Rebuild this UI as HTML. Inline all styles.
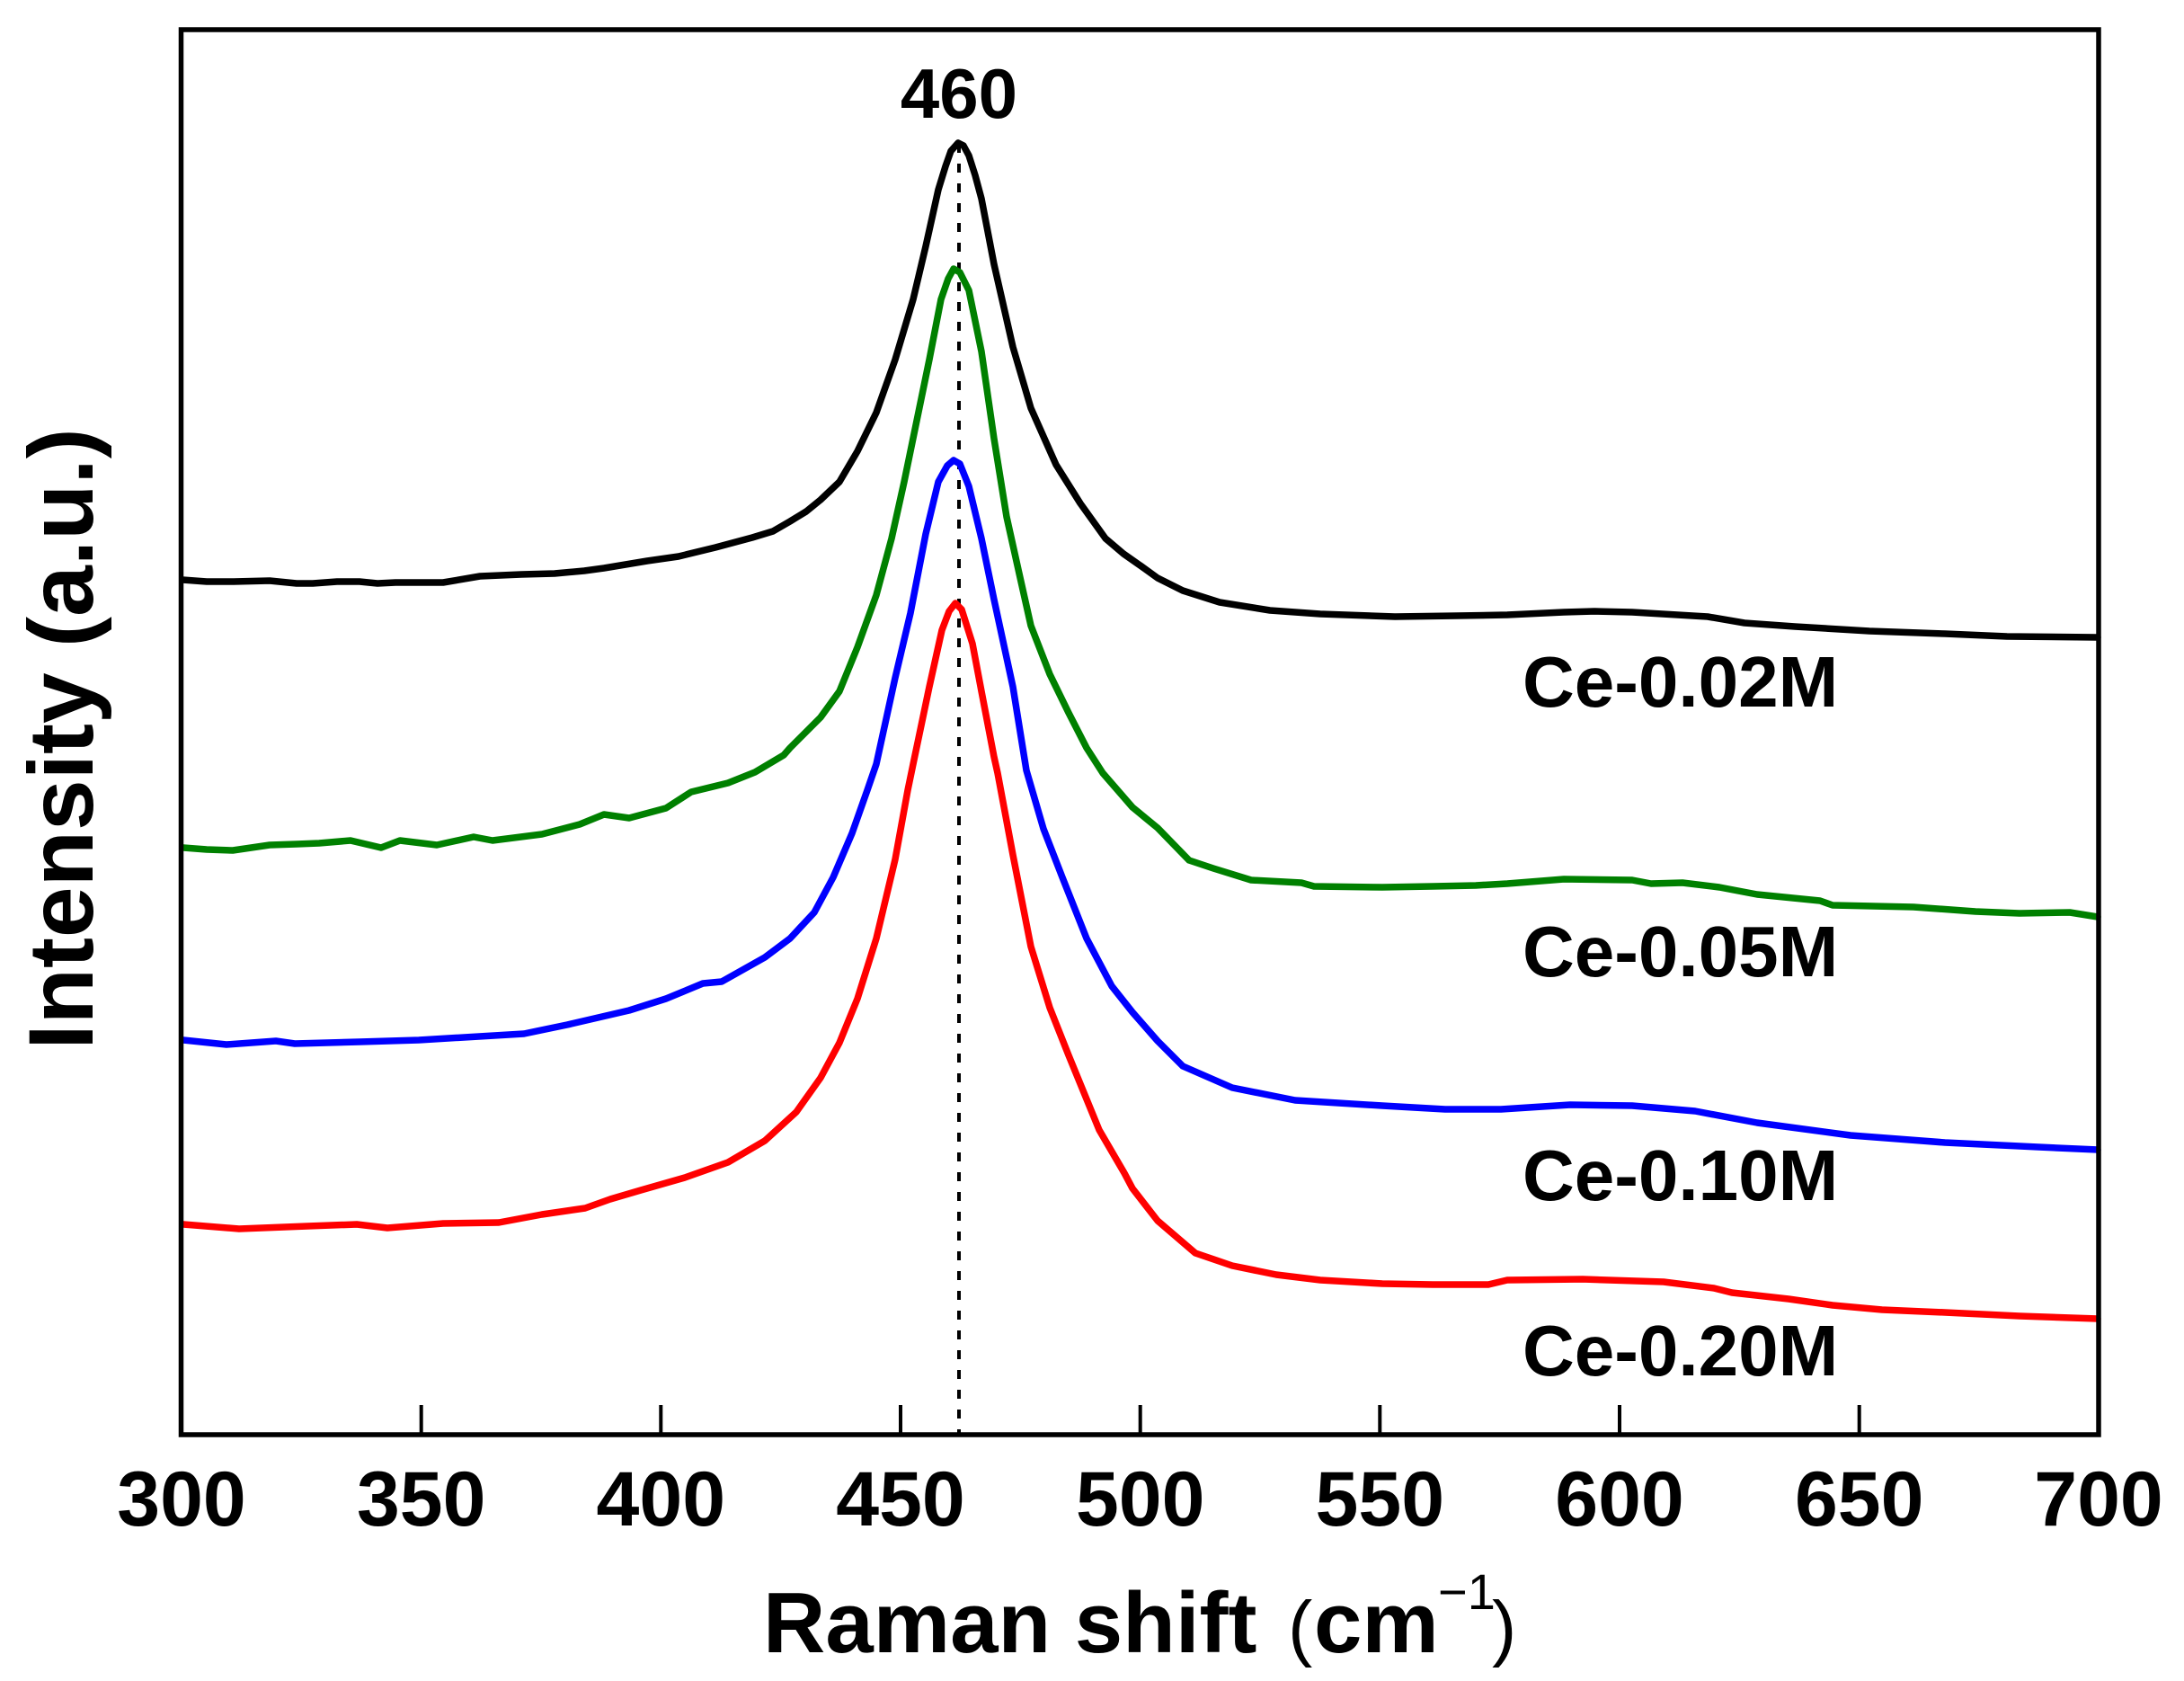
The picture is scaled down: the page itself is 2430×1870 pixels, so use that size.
<!DOCTYPE html>
<html>
<head>
<meta charset="utf-8">
<style>
html,body{margin:0;padding:0;background:#fff;}
svg{display:block;}
text{font-family:"Liberation Sans",Arial,sans-serif;fill:#000;}
</style>
</head>
<body>
<svg width="2430" height="1870" viewBox="0 0 2430 1870" xmlns="http://www.w3.org/2000/svg">
<rect x="0" y="0" width="2430" height="1870" fill="#fff"/>

<!-- dotted reference line -->
<line x1="1067" y1="160" x2="1067" y2="1594" stroke="#000" stroke-width="4" stroke-dasharray="10 12"/>

<!-- Black Ce-0.02M -->
<polyline fill="none" stroke="#000" stroke-width="7.5" stroke-linejoin="round" stroke-linecap="round" points="203,645 230,647 260,647 300,646 330,649 348,649 375,647 400,647 420,649 440,648 470,648 493,648 534,641 580,639 617,638 650,635 672,632 720,624 755,619 796,609 837,598 860,591 879,580 897,569 913,556 934,536 954,502 975,459 996,400 1016,333 1030,274 1044,211 1052,185 1058,168 1066,159 1072,162 1078,173 1085,195 1092,221 1106,294 1127,386 1147,454 1175,517 1202,560 1230,599 1250,616 1270,630 1288,643 1316,657 1357,670 1413,679 1469,683 1552,686 1621,685 1677,684 1740,681 1774,680 1816,681 1900,686 1941,693 1997,697 2080,702 2164,705 2233,708 2334,709"/>

<!-- Green Ce-0.05M -->
<polyline fill="none" stroke="#008000" stroke-width="7.5" stroke-linejoin="round" stroke-linecap="round" points="204,943 230,945 259,946 300,940 330,939 355,938 390,935 424,943 445,935 486,940 527,931 548,935 603,928 645,917 672,906 700,910 741,899 769,881 810,871 840,859 872,840 879,832 913,798 934,769 954,720 975,662 992,599 1006,536 1020,468 1034,400 1047,333 1055,310 1061,299 1068,303 1078,323 1092,391 1106,488 1120,575 1134,638 1147,696 1168,750 1189,793 1209,832 1227,860 1260,898 1288,921 1323,957 1350,966 1392,979 1448,982 1462,986 1538,987 1594,986 1642,985 1677,983 1740,978 1816,979 1837,983 1872,982 1913,987 1955,995 2025,1002 2039,1007 2129,1009 2198,1014 2247,1016 2303,1015 2334,1020"/>

<!-- Blue Ce-0.10M -->
<polyline fill="none" stroke="#0000ff" stroke-width="7.5" stroke-linejoin="round" stroke-linecap="round" points="204,1157 252,1162 307,1158 328,1161 400,1159 466,1157 583,1150 631,1140 700,1124 741,1111 782,1094 803,1092 851,1065 879,1044 906,1015 927,976 948,927 965,879 975,850 996,754 1013,682 1030,594 1044,536 1054,518 1061,512 1068,516 1078,541 1092,599 1106,667 1127,764 1142,857 1161,922 1182,976 1209,1044 1237,1097 1260,1126 1288,1158 1316,1186 1371,1210 1441,1224 1538,1230 1608,1234 1670,1234 1747,1229 1816,1230 1886,1236 1955,1249 2059,1263 2164,1271 2268,1276 2334,1279"/>

<!-- Red Ce-0.20M -->
<polyline fill="none" stroke="#ff0000" stroke-width="7.5" stroke-linejoin="round" stroke-linecap="round" points="204,1362 266,1367 342,1364 397,1362 431,1366 493,1361 555,1360 603,1351 651,1344 679,1334 713,1324 762,1310 810,1293 851,1269 886,1237 913,1199 934,1160 954,1111 975,1044 996,956 1010,879 1016,850 1034,764 1048,701 1056,680 1063,671 1070,678 1082,716 1092,769 1106,842 1110,860 1127,951 1147,1053 1168,1121 1189,1174 1223,1257 1251,1305 1260,1322 1288,1358 1330,1394 1371,1408 1420,1418 1469,1424 1538,1428 1594,1429 1656,1429 1677,1424 1761,1423 1851,1426 1907,1433 1927,1438 1990,1445 2039,1452 2094,1457 2164,1460 2247,1464 2334,1467"/>

<!-- frame -->
<rect x="201.5" y="33" width="2133.5" height="1563" fill="none" stroke="#000" stroke-width="5.5"/>

<!-- ticks -->
<g stroke="#000" stroke-width="4">
<line x1="468.7" y1="1563" x2="468.7" y2="1596"/>
<line x1="735.3" y1="1563" x2="735.3" y2="1596"/>
<line x1="1002" y1="1563" x2="1002" y2="1596"/>
<line x1="1268.7" y1="1563" x2="1268.7" y2="1596"/>
<line x1="1535.3" y1="1563" x2="1535.3" y2="1596"/>
<line x1="1802" y1="1563" x2="1802" y2="1596"/>
<line x1="2068.7" y1="1563" x2="2068.7" y2="1596"/>
</g>

<!-- tick labels -->
<g font-size="86" font-weight="bold" text-anchor="middle">
<text x="202" y="1697">300</text>
<text x="468.7" y="1697">350</text>
<text x="735.3" y="1697">400</text>
<text x="1002" y="1697">450</text>
<text x="1268.7" y="1697">500</text>
<text x="1535.3" y="1697">550</text>
<text x="1802" y="1697">600</text>
<text x="2068.7" y="1697">650</text>
<text x="2335" y="1697">700</text>
</g>

<!-- peak label -->
<text x="1067" y="131" font-size="78" font-weight="bold" text-anchor="middle">460</text>

<!-- series labels -->
<g font-size="80" font-weight="bold">
<text x="1694" y="786">Ce-0.02M</text>
<text x="1694" y="1086">Ce-0.05M</text>
<text x="1694" y="1335">Ce-0.10M</text>
<text x="1694" y="1530">Ce-0.20M</text>
</g>

<!-- y axis title -->
<text transform="translate(103,822) rotate(-90)" font-size="102" font-weight="bold" text-anchor="middle">Intensity (a.u.)</text>

<!-- x axis title -->
<text x="849" y="1838" font-size="96" font-weight="bold">Raman shift</text>
<text x="1433" y="1838" font-size="82">(</text>
<text x="1462" y="1838" font-size="96" font-weight="bold">cm</text>
<text x="1600" y="1790" font-size="56">−1</text>
<text x="1660" y="1838" font-size="82">)</text>
</svg>
</body>
</html>
